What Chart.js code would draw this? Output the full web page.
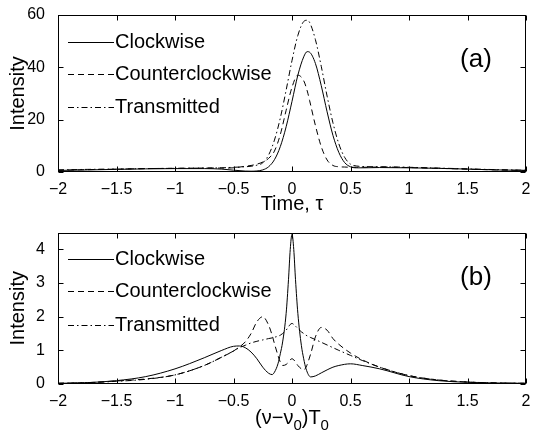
<!DOCTYPE html>
<html><head><meta charset="utf-8">
<script src="https://cdn.jsdelivr.net/npm/chart.js@4.4.1/dist/chart.umd.min.js"></script>
<style>
html,body{margin:0;padding:0;background:#fff;}
#wrap{position:relative;width:533px;height:436px;overflow:hidden;background:#fff;}
canvas{position:absolute;left:0;}
#ca{top:0;} #cb{top:218px;}
</style></head><body>
<div id="wrap"><canvas id="ca" width="533" height="218"></canvas><canvas id="cb" width="533" height="218"></canvas></div>
<script>
const seriesNames = ['Clockwise', 'Counterclockwise', 'Transmitted'];

// Panel (a): time domain
const tauA = [-2,-1.75,-1.5,-1.25,-1,-0.75,-0.6,-0.5,-0.4,-0.35,-0.3,-0.25,-0.2,-0.15,-0.1,-0.05,0,0.05,0.1,0.13,0.15,0.2,0.25,0.3,0.35,0.4,0.45,0.5,0.55,0.6,0.75,1,1.25,1.5,1.75,2];
const cwA  = [0.6,0.8,1.0,1.2,1.3,1.3,1.1,0.7,0.35,0.3,0.4,0.8,2.0,4.7,9.7,17.3,27,37,44,46,45.8,41.5,33,23,14,7.5,3.6,2.0,1.6,1.6,1.7,1.6,1.4,1.1,0.8,0.6];
const ccwA = [0.7,0.9,1.1,1.3,1.4,1.5,1.5,1.6,2.2,2.5,3.0,3.8,5.2,8.0,14.3,23.6,32.4,37,34.9,31,27.4,17.8,9.7,4.6,2.5,2.0,1.9,1.8,1.8,1.8,1.9,1.7,1.4,1.1,0.8,0.6];
const trA  = [0.8,1.0,1.1,1.3,1.4,1.5,1.6,1.8,2.0,2.2,2.6,3.5,6.5,12.2,20.6,31.3,42.6,52.2,57.5,58,57.2,50.6,40.4,29,18.8,10.8,5.6,3.0,2.3,2.1,2.0,1.8,1.5,1.2,0.9,0.7];

// Panel (b): spectral domain
const nuB  = [-2,-1.75,-1.5,-1.25,-1,-0.75,-0.6,-0.5,-0.45,-0.4,-0.35,-0.3,-0.25,-0.2,-0.17,-0.15,-0.12,-0.1,-0.08,-0.05,-0.03,-0.015,0,0.015,0.03,0.05,0.08,0.1,0.12,0.16,0.2,0.25,0.3,0.35,0.4,0.5,0.6,0.75,1,1.25,1.5,1.75,2];
const cwB  = [0.02,0.04,0.1,0.22,0.45,0.78,1.0,1.12,1.13,1.08,0.95,0.75,0.5,0.32,0.28,0.35,0.6,0.9,1.25,2.1,3.1,4.0,4.45,4.0,3.1,2.1,1.15,0.75,0.45,0.21,0.24,0.33,0.42,0.5,0.55,0.6,0.55,0.45,0.22,0.1,0.05,0.03,0.02];
const ccwB = [0.02,0.04,0.09,0.15,0.27,0.55,0.8,0.98,1.1,1.25,1.5,1.85,2.0,1.75,1.45,1.2,0.85,0.65,0.55,0.58,0.65,0.72,0.75,0.72,0.65,0.55,0.45,0.42,0.5,0.9,1.4,1.68,1.6,1.35,1.18,0.92,0.72,0.5,0.25,0.12,0.06,0.03,0.02];
const trB  = [0.02,0.04,0.08,0.14,0.27,0.55,0.8,0.98,1.08,1.15,1.22,1.27,1.31,1.35,1.37,1.39,1.42,1.45,1.5,1.6,1.7,1.77,1.8,1.77,1.72,1.65,1.55,1.5,1.45,1.38,1.32,1.24,1.16,1.08,1.0,0.85,0.7,0.5,0.25,0.12,0.06,0.03,0.02];

const FONT = "'Liberation Sans', Arial, Helvetica, sans-serif";
const dashes = [[], [6,4], [6,3,1.5,3]];
Chart.defaults.color = '#000';
Chart.defaults.font.family = FONT;

const framePlugin = {
  id: 'frame',
  afterDraw(chart, args, o) {
    const {ctx, chartArea: a, scales} = chart;
    ctx.save();
    ctx.strokeStyle = '#000'; ctx.lineWidth = 1; ctx.setLineDash([]);
    const l = Math.round(a.left) + 0.5, r = Math.round(a.right) - 0.5, t = Math.round(a.top) + 0.5, b = Math.round(a.bottom) - 0.5;
    ctx.strokeRect(l, t, r - l, b - t);
    const L = 5;
    const seg = (x1,y1,x2,y2)=>{ctx.beginPath();ctx.moveTo(x1,y1);ctx.lineTo(x2,y2);ctx.stroke();};
    scales.x.ticks.forEach(tk => { const px = Math.round(scales.x.getPixelForValue(tk.value)) + 0.5; seg(px,b,px,b-L); seg(px,t,px,t+L); });
    scales.y.ticks.forEach(tk => { const py = Math.round(scales.y.getPixelForValue(tk.value)) + 0.5; seg(l,py,l+L,py); seg(r,py,r-L,py); });
    // legend
    ctx.font = '20px ' + FONT; ctx.textBaseline = 'middle'; ctx.textAlign = 'left'; ctx.fillStyle = '#000';
    chart.data.datasets.forEach((ds, i) => {
      const y = Math.round(a.top + o.rows[i]) + 0.5;
      ctx.setLineDash(ds.borderDash || []);
      seg(68, y, 114, y);
      ctx.setLineDash([]);
      ctx.fillText(ds.label, 115, y);
    });
    // panel label
    ctx.font = '26px ' + FONT; ctx.textAlign = 'center';
    ctx.fillText(o.label, 476, a.top + 45);
    // custom subscript x title
    if (o.sub) {
      const parts = [['(\u03bd\u2212\u03bd',0],['0',1],[')T',0],['0',1]];
      const fN = '20px ' + FONT, fS = '15px ' + FONT;
      let w = 0;
      parts.forEach(p => { ctx.font = p[1] ? fS : fN; w += ctx.measureText(p[0]).width; });
      let x = (a.left + a.right) / 2 - w / 2;
      const yc = a.bottom + 34;
      ctx.textAlign = 'left';
      parts.forEach(p => { ctx.font = p[1] ? fS : fN; ctx.fillText(p[0], x, yc + (p[1] ? 8 : 0)); x += ctx.measureText(p[0]).width; });
    }
    ctx.restore();
  }
};

function makeChart(id, xs, ys, yMax, yStep, xTitle, axisH, padTop, label, rows, sub) {
  return new Chart(document.getElementById(id), {
    type: 'line',
    data: {
      datasets: ys.map((arr, i) => ({
        label: seriesNames[i],
        data: xs.map((x, j) => ({x: x, y: arr[j]})),
        borderColor: '#000', borderWidth: 1, borderDash: dashes[i],
        pointRadius: 0, cubicInterpolationMode: 'monotone', fill: false
      }))
    },
    options: {
      responsive: false, animation: false, devicePixelRatio: 1,
      layout: {padding: {left: 0, right: 7, top: padTop, bottom: 0}},
      plugins: {legend: {display: false}, tooltip: {enabled: false}, frame: {label: label, rows: rows, sub: sub}},
      scales: {
        x: {
          type: 'linear', min: -2, max: 2,
          grid: {display: false}, border: {display: false},
          ticks: {stepSize: 0.5, font: {size: 16}, padding: 0, maxRotation: 0, autoSkip: false,
                  callback: v => String(v).replace('-', '\u2212')},
          title: {display: !!xTitle, text: xTitle, font: {size: 20}, padding: {top: 0, bottom: 2}},
          afterFit: s => { s.height = axisH; }
        },
        y: {
          min: 0, max: yMax,
          grid: {display: false}, border: {display: false},
          ticks: {stepSize: yStep, includeBounds: false, font: {size: 16}, padding: 5},
          title: {display: true, text: 'Intensity', font: {size: 20}, padding: {top: 6, bottom: 0}},
          afterFit: s => { s.width = 58; }
        }
      }
    },
    plugins: [framePlugin]
  });
}

makeChart('ca', tauA, [cwA, ccwA, trA], 60, 20, 'Time, \u03c4', 46, 15, '(a)', [27, 59, 92], false);
makeChart('cb', nuB, [cwB, ccwB, trB], 4.5, 1, '', 52, 10, '(b)', [26, 58, 92], true);
</script>
</body></html>
